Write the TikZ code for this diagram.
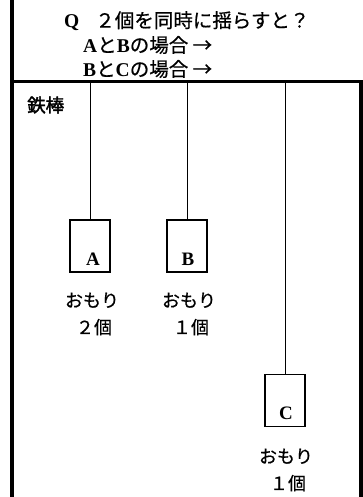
\documentclass[tikz,border=0pt]{standalone}
\usepackage{fontspec}
\setmainfont{Liberation Serif}
\newfontfamily\jp{Noto Sans CJK JP}[FakeBold=0.6]
\newfontfamily\jpb{Noto Sans CJK JP}[FakeBold=2]
\begin{document}
\begin{tikzpicture}[x=1pt,y=-1pt,
  frame/.style={line width=4pt},
  bar/.style={line width=3pt},
  string/.style={line width=0.9pt},
  weight/.style={draw,line width=1.2pt,minimum width=40pt,minimum height=52pt,inner sep=0pt},
  letter/.style={font=\bfseries\fontsize{19}{19}\selectfont,inner sep=0pt},
  caption/.style={font=\jp\fontsize{18}{27}\selectfont,inner sep=0pt,align=center},
  head/.style={font=\fontsize{19.5}{20}\selectfont,inner sep=0pt,anchor=west}]
\useasboundingbox (0,0) rectangle (363,497);
% frame
\coordinate (LT) at (12,0);
\coordinate (LB) at (12,497);
\coordinate (BL) at (10,82);
\coordinate (BR) at (363,82);
\coordinate (RT) at (360.5,82);
\coordinate (RB) at (360.5,497);
\draw[frame] (LT) -- (LB);
\draw[bar] (BL) -- (BR);
\draw[frame] (RT) -- (RB);
% header
\node[head] (q) at (64,21) {\textbf{Q}\hspace{16pt}{\jp ２個を同時に揺らすと？}};
\node[head] (ab) at (83,45) {\textbf{A}{\jp と}\textbf{B}{\jp の場合 →}};
\node[head] (bc) at (83,69) {\textbf{B}{\jp と}\textbf{C}{\jp の場合 →}};
% label
\node[font=\jpb\fontsize{18.5}{19}\selectfont,inner sep=0pt,anchor=west] (tetsubo) at (27,105) {鉄棒};
% weights
\node[weight] (boxA) at (90,246) {};
\node[weight] (boxB) at (187,246) {};
\node[weight] (boxC) at (285,400.5) {};
\node[letter] (lA) at (93,259) {A};
\node[letter] (lB) at (188,259) {B};
\node[letter] (lC) at (286,413) {C};
% strings
\coordinate (tA) at (90,83.5);
\coordinate (tB) at (187,83.5);
\coordinate (tC) at (285,83.5);
\draw[string] (tA) -- (boxA.north);
\draw[string] (tB) -- (boxB.north);
\draw[string] (tC) -- (boxC.north);
% captions
\node[caption] (cA) at (92,314) {おもり\\\hspace*{4pt}２個};
\node[caption] (cB) at (189,314) {おもり\\\hspace*{4pt}１個};
\node[caption] (cC) at (286,470) {おもり\\\hspace*{4pt}１個};
\end{tikzpicture}
\end{document}
